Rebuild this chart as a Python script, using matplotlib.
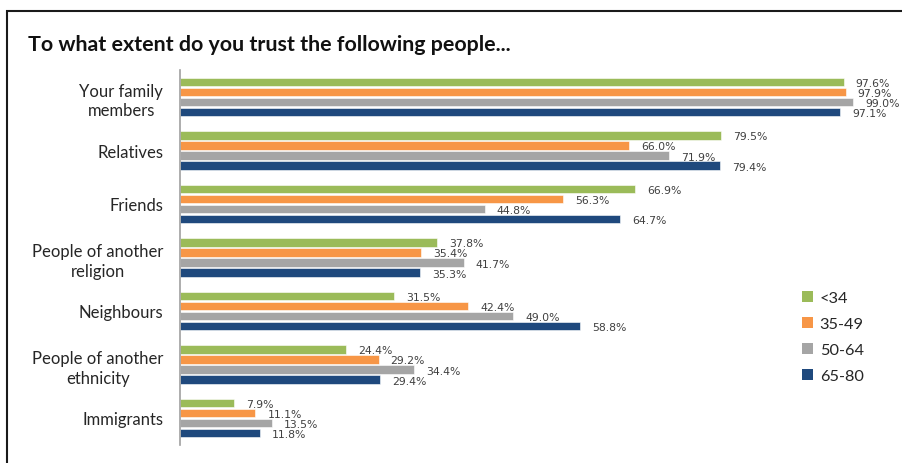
import matplotlib
matplotlib.use("Agg")
import matplotlib.pyplot as plt
from matplotlib.patches import Rectangle, Patch
import numpy as np

categories = ["Your family\nmembers", "Relatives", "Friends", "People of another\nreligion",
              "Neighbours", "People of another\nethnicity", "Immigrants"]
series_names = ["<34", "35-49", "50-64", "65-80"]
v_lt34 = [97.6, 79.5, 66.9, 37.8, 31.5, 24.4, 7.9]
v_35_49 = [97.9, 66.0, 56.3, 35.4, 42.4, 29.2, 11.1]
v_50_64 = [99.0, 71.9, 44.8, 41.7, 49.0, 34.4, 13.5]
v_65_80 = [97.1, 79.4, 64.7, 35.3, 58.8, 29.4, 11.8]
colors = ["#9BBB59", "#F79646", "#A5A5A5", "#1F497D"]
title = "To what extent do you trust the following people..."

W, H = 902, 464
fig = plt.figure(figsize=(W / 100, H / 100), dpi=100)

# outer frame
fig.patches.append(Rectangle((7 / W, -0.1), 1.2, (H - 12) / H + 0.1, transform=fig.transFigure,
                             fill=False, edgecolor="#1a1a1a", linewidth=1.5))

ax_left, ax_right = 180 / W, 860 / W
ax_top, ax_bot = 1 - 71.25 / H, 1 - 445.75 / H
ax = fig.add_axes([ax_left, ax_bot, ax_right - ax_left, ax_top - ax_bot])
ax.set_xlim(0, 100)
ax.set_ylim(6.5, -0.5)

y = np.arange(len(categories))
pitch = 0.187
hgt = 0.15
all_vals = [v_lt34, v_35_49, v_50_64, v_65_80]
for k, (vals, c, name) in enumerate(zip(all_vals, colors, series_names)):
    pos = y + (k - 1.5) * pitch
    ax.barh(pos, vals, height=hgt, color=c, edgecolor="white", linewidth=0.4, label=name)
    for p, v in zip(pos, vals):
        ax.annotate(f"{v:.1f}%", (v, p), xytext=(12, -1), textcoords="offset pixels",
                    ha="left", va="center", fontsize=7.8, color="#404040",
                    family="DejaVu Sans")

ax.set_yticks(y)
ax.set_yticklabels(categories, fontsize=12, family="Lato", color="#262626",
                   multialignment="center", linespacing=1.3)
ax.tick_params(axis="y", length=0, pad=12)
ax.tick_params(axis="x", bottom=False, labelbottom=False)
for s in ["top", "right", "bottom"]:
    ax.spines[s].set_visible(False)
ax.spines["left"].set_color("#A0A0A0")
ax.spines["left"].set_linewidth(1.2)

fig.text(28 / W, 1 - 45 / H, title, fontsize=15.4, fontweight="bold", family="Lato",
         color="#111111", ha="left", va="center")

handles = [Patch(facecolor=c, edgecolor="none") for c in colors]
leg = fig.legend(handles, series_names, loc="upper left",
                 bbox_to_anchor=(787 / W, 1 - 277 / H), frameon=False,
                 prop={"family": "Lato", "size": 11.8}, handlelength=0.7, handleheight=0.7,
                 handletextpad=0.4, labelspacing=0.7)
for t in leg.get_texts():
    t.set_color("#262626")

fig.savefig("out.png", dpi=100, facecolor="white")
